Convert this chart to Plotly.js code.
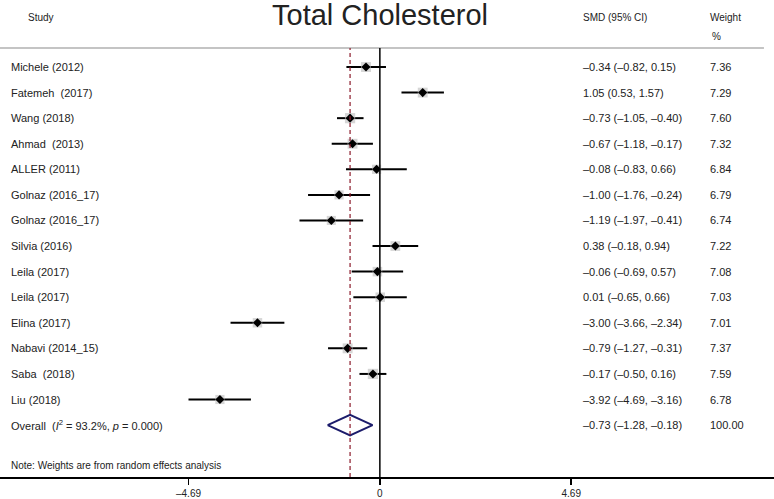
<!DOCTYPE html>
<html>
<head>
<meta charset="utf-8">
<script src="https://cdn.plot.ly/plotly-3.0.1.min.js"></script>
<style>
  html, body { margin: 0; padding: 0; background: #fff; }
  #chart { width: 774px; height: 499px; }
</style>
</head>
<body>
<div id="chart"></div>
<script>
const studies = ['Michele (2012)', 'Fatemeh  (2017)', 'Wang (2018)', 'Ahmad  (2013)', 'ALLER (2011)',
  'Golnaz (2016_17)', 'Golnaz (2016_17)', 'Silvia (2016)', 'Leila (2017)', 'Leila (2017)',
  'Elina (2017)', 'Nabavi (2014_15)', 'Saba  (2018)', 'Liu (2018)'];
const smd = [-0.34, 1.05, -0.73, -0.67, -0.08, -1.00, -1.19, 0.38, -0.06, 0.01, -3.00, -0.79, -0.17, -3.92];
const ciLow = [-0.82, 0.53, -1.05, -1.18, -0.83, -1.76, -1.97, -0.18, -0.69, -0.65, -3.66, -1.27, -0.50, -4.69];
const ciHigh = [0.15, 1.57, -0.40, -0.17, 0.66, -0.24, -0.41, 0.94, 0.57, 0.66, -2.34, -0.31, 0.16, -3.16];
const weights = [7.36, 7.29, 7.60, 7.32, 6.84, 6.79, 6.74, 7.22, 7.08, 7.03, 7.01, 7.37, 7.59, 6.78];

const overall = { smd: -0.73, lo: -1.28, hi: -0.18, weight: 100.00 };
const overallLabel = 'Overall  (<i>I</i><sup>2</sup> = 93.2%, <i>p</i> = 0.000)';
const noteText = 'Note: Weights are from random effects analysis';

const tickVals = [-4.69, 0, 4.69];
const tickText = ['\u20134.69', '0', '4.69'];

const fmt = v => v.toFixed(2).replace('-', '\u2013');
const rows = studies.map((_, i) => i);
const overallRow = studies.length;
const noteRow = overallRow + 1.57;

const font = 'Liberation Sans, Arial, sans-serif';
const textColor = '#222';

// CI whiskers
const ciX = [], ciY = [];
rows.forEach(i => { ciX.push(ciLow[i], ciHigh[i], null); ciY.push(i, i, null); });

const traces = [
  { x: ciX, y: ciY, mode: 'lines', line: { color: '#000', width: 2 }, hoverinfo: 'skip' },
  { x: smd, y: rows, mode: 'markers', hoverinfo: 'skip',
    marker: { symbol: 'square', color: '#c4c4c4', size: weights.map(w => w * 1.35), line: { width: 0 } } },
  { x: smd, y: rows, mode: 'markers', hoverinfo: 'skip',
    marker: { symbol: 'diamond', color: '#000', size: 7 } },
  { x: [overall.lo, overall.smd, overall.hi, overall.smd, overall.lo],
    y: [overallRow, overallRow - 0.4, overallRow, overallRow + 0.4, overallRow],
    mode: 'lines', line: { color: '#1c1c6b', width: 2 }, hoverinfo: 'skip' },
];

const ann = [];
const txt = (x, y, text, size, extra) => Object.assign({
  x, y, xref: 'paper', yref: 'y', text, showarrow: false, xanchor: 'left',
  font: { family: font, size: size || 11, color: textColor },
}, extra || {});

rows.forEach(i => {
  ann.push(txt(0.011, i, studies[i]));
  ann.push(txt(0.751, i, fmt(smd[i]) + ' (' + fmt(ciLow[i]) + ', ' + fmt(ciHigh[i]) + ')'));
  ann.push(txt(0.915, i, weights[i].toFixed(2)));
});
ann.push(txt(0.011, overallRow, overallLabel));
ann.push(txt(0.751, overallRow, fmt(overall.smd) + ' (' + fmt(overall.lo) + ', ' + fmt(overall.hi) + ')'));
ann.push(txt(0.915, overallRow, overall.weight.toFixed(2)));
ann.push(txt(0.011, noteRow, noteText, 10));

// header row (paper coordinates)
const head = (x, y, text, size, anchor) => ({
  x, y, xref: 'paper', yref: 'paper', text, showarrow: false, xanchor: anchor || 'left', yanchor: 'middle',
  font: { family: font, size: size || 11, color: textColor },
});
ann.push(head(0.034, 1.072, 'Study', 10));
ann.push(head(0.491, 1.078, 'Total Cholesterol', 29, 'center'));
ann.push(head(0.751, 1.072, 'SMD (95% CI)', 10));
ann.push(head(0.915, 1.072, 'Weight', 10));
ann.push(head(0.917, 1.027, '%', 10));

const layout = {
  width: 774, height: 499,
  margin: { l: 0, r: 0, t: 48, b: 22 },
  paper_bgcolor: '#fff', plot_bgcolor: '#fff',
  showlegend: false,
  xaxis: {
    range: [-9.31, 9.66], showgrid: false, zeroline: false,
    showline: true, linecolor: '#000', linewidth: 1.5,
    ticks: 'outside', ticklen: 6, tickwidth: 1.5, tickcolor: '#000',
    tickvals: tickVals, ticktext: tickText,
    tickfont: { family: font, size: 10, color: textColor },
    fixedrange: true,
  },
  yaxis: {
    range: [16.03, -0.743], showgrid: false, zeroline: false, showticklabels: false,
    showline: false, fixedrange: true,
  },
  shapes: [
    { type: 'line', xref: 'paper', yref: 'paper', x0: 0, x1: 0.987, y0: 1, y1: 1,
      line: { color: '#b0b0b0', width: 1.5 } },
    { type: 'line', xref: 'x', yref: 'paper', x0: 0, x1: 0, y0: 0, y1: 1,
      line: { color: '#000', width: 1.5 } },
    { type: 'line', xref: 'x', yref: 'paper', x0: overall.smd, x1: overall.smd, y0: 0, y1: 1,
      line: { color: '#8b1a2a', width: 1.2, dash: '4px,3px' } },
  ],
  annotations: ann,
};

Plotly.newPlot('chart', traces, layout, { displayModeBar: false, staticPlot: true });
</script>
</body>
</html>
